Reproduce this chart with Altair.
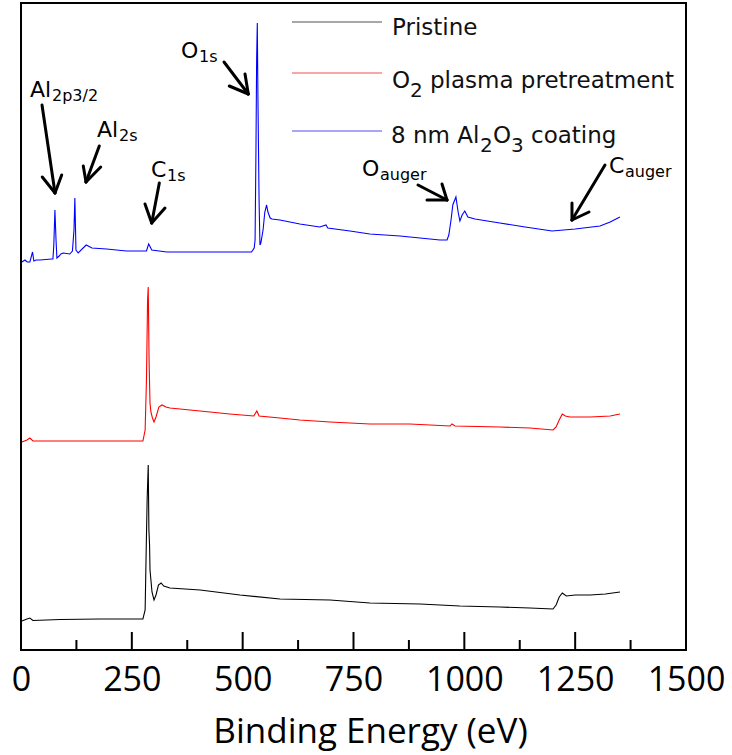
import altair as alt
import pandas as pd

# ---- XPS survey spectra (binding energy in eV, stacked intensity in a.u.) ----
pristine_be = [2, 13.5, 20, 27, 88, 178, 275, 280, 282, 284.5, 287, 288.5, 290, 291,
               295.5, 300, 304.5, 310, 316, 322, 336, 404, 494, 584, 697, 787, 900, 990,
               1080, 1148, 1200, 1207, 1214, 1221, 1230, 1250, 1284, 1318, 1351]
pristine_int = [29, 31, 32, 29.5, 30.5, 31, 31, 40, 90, 150, 185, 120, 105, 80,
                58, 50, 55, 65, 67, 64, 62, 60, 55, 51, 50, 47, 46, 44,
                43, 42, 41, 45, 53, 57, 54, 55, 55, 56, 58]

plasma_be = [2, 13.5, 20, 27, 88, 178, 275, 280, 283, 285.5, 287, 289, 291, 293,
             296.5, 300, 304.5, 311, 318, 327, 336, 404, 471, 525, 532, 537, 584, 629,
             697, 787, 877, 968, 972, 979, 1080, 1148, 1200, 1207, 1214, 1221, 1228,
             1238, 1284, 1329, 1351]
plasma_int = [208, 210, 212, 209, 209, 209, 209, 220, 270, 350, 363, 287, 247, 238,
              232, 228, 233, 243, 245, 243, 242, 239, 236, 234, 239, 234, 232, 230,
              228, 226, 226, 224, 226, 224, 223, 222, 220, 223, 230, 236, 234,
              233, 233, 234, 236]

coating_be = [2, 9, 14, 20, 26, 29, 34, 43, 69, 72, 74, 76.5, 79, 81, 86, 90, 95, 110,
              116, 119.5, 121.5, 124, 129, 147, 160, 193, 238, 283, 288, 295, 329, 404,
              478, 520, 526, 528, 530, 531.5, 533, 534.5, 537, 539, 541, 546, 550, 554,
              557, 562, 566, 584, 629, 674, 688, 692, 742, 787, 855, 900, 945, 961, 965,
              970, 974, 981, 986, 990, 995, 1001, 1008, 1024, 1080, 1137, 1198, 1250,
              1306, 1329, 1351]
coating_int = [388, 390, 388, 388, 398, 389, 390, 390, 391, 391, 405, 440, 410, 392, 394,
               396, 397, 396, 399, 420, 452, 400, 397, 405, 402, 401, 399, 399, 406, 400,
               398, 398, 398, 398, 402, 410, 500, 590, 627, 550, 450, 405, 407, 420, 438,
               445, 438, 432, 431, 430, 426, 423, 425, 422, 419, 416, 414, 412, 410, 410,
               415, 430, 445, 453, 438, 429, 435, 439, 433, 431, 427, 423, 419, 421, 424,
               428, 433]

series_names = ["Pristine", "O2 plasma pretreatment", "8 nm Al2O3 coating"]
series_colors = ["#000000", "#ff0000", "#0000ff"]
legend_line_colors = ["#8a8a8a", "#f48a8a", "#8a8af4"]

# ---- x axis ticks ----
tick_labels = [0, 250, 500, 750, 1000, 1250, 1500]
major_ticks = [250, 500, 750, 1000, 1250]
minor_ticks = [125, 375, 625, 875, 1125, 1375]

# ---- peak labels (main symbol + subscript) ----
peak_main = ["Al", "Al", "C", "O", "O", "C"]
peak_main_be = [20.3, 171.4, 293.2, 360.9, 769.2, 1326.3]
peak_main_int = [553, 513, 473, 592, 474, 477]
peak_sub = ["2p3/2", "2s", "1s", "1s", "auger", "auger"]
peak_sub_be = [69.9, 221, 329.3, 401.5, 809.8, 1362.4]
peak_sub_int = [549, 509, 469, 588, 470, 473]

# ---- arrows pointing at the peaks: tail, tip and the two head strokes ----
arrow_tail_be = [47.4, 176.6, 312, 457.9, 895.5, 1317.3]
arrow_tail_int = [545, 504, 467, 588, 465, 485]
arrow_tip_be = [76.7, 146.6, 294.8, 512.7, 960.9, 1242.8]
arrow_tip_int = [457, 468, 427, 556, 450, 430]
head_a_be = [48, 140.5, 279.7, 469.8, 915.8, 1242.8]
head_a_int = [473, 484, 446, 564, 450, 447]
head_b_be = [91.8, 179.8, 324.8, 505.3, 949.6, 1281.2]
head_b_int = [475, 483, 442, 576, 466, 438]

# ---- legend ----
legend_line_be = [611.3, 814.3]
legend_line_int = [628, 577, 519]
legend_text = ["Pristine", "O", "plasma pretreatment", "8 nm Al", "O", "coating"]
legend_text_be = [836.8, 836.8, 922.5, 834.6, 1064.6, 1150.4]
legend_text_int = [615, 562, 562, 507, 507, 507]
legend_sub = ["2", "2", "3"]
legend_sub_be = [877.4, 1035.3, 1105.2]
legend_sub_int = [553, 498, 498]

# ---- tables ----
frames = []
for name, be, inten in zip(series_names,
                           [pristine_be, plasma_be, coating_be],
                           [pristine_int, plasma_int, coating_int]):
    frames.append(pd.DataFrame({"be": be, "intensity": inten, "series": name,
                                "idx": range(len(be))}))
spectra = pd.concat(frames, ignore_index=True)

segs = []
for i in range(len(arrow_tip_be)):
    segs.append((arrow_tail_be[i], arrow_tail_int[i], arrow_tip_be[i], arrow_tip_int[i]))
    segs.append((arrow_tip_be[i], arrow_tip_int[i], head_a_be[i], head_a_int[i]))
    segs.append((arrow_tip_be[i], arrow_tip_int[i], head_b_be[i], head_b_int[i]))
arrows = pd.DataFrame(segs, columns=["x", "y", "x2", "y2"])

main_labels = pd.DataFrame({"t": peak_main, "x": peak_main_be, "y": peak_main_int})
sub_labels = pd.DataFrame({"t": peak_sub, "x": peak_sub_be, "y": peak_sub_int})

legend_lines = pd.DataFrame({"x": legend_line_be[0], "x2": legend_line_be[1],
                             "y": legend_line_int, "c": legend_line_colors})
legend_main = pd.DataFrame({"t": legend_text, "x": legend_text_be, "y": legend_text_int})
legend_subs = pd.DataFrame({"t": legend_sub, "x": legend_sub_be, "y": legend_sub_int})

tick_df = pd.DataFrame({"be": major_ticks + minor_ticks,
                        "top": [18] * len(major_ticks) + [10] * len(minor_ticks)})

# ---- scales ----
x_scale = alt.Scale(domain=[0, 1500], nice=False, zero=False)
y_scale = alt.Scale(domain=[0, 647], nice=False, zero=False)
PLOT_H = 647

x_axis = alt.Axis(
    values=tick_labels, format="d", title="Binding Energy (eV)", grid=False, domain=False,
    ticks=False, tickSize=0, labelFont="Open Sans", labelFontSize=34,
    labelColor="black", labelBaseline="alphabetic", labelPadding=40,
    labelFlush=False, labelOverlap=False,
    titleFont="Open Sans", titleFontSize=35, titleFontWeight="normal",
    titleColor="black", titleBaseline="alphabetic", titleX=349, titleY=92,
)


def xq(field):
    return alt.X(field, scale=x_scale, title="Binding Energy (eV)")


def yq(field):
    return alt.Y(field, scale=y_scale, axis=None)


lines = alt.Chart(spectra).mark_line(strokeWidth=1.1).encode(
    x=alt.X("be:Q", scale=x_scale, axis=x_axis),
    y=yq("intensity:Q"),
    color=alt.Color("series:N", scale=alt.Scale(domain=series_names, range=series_colors),
                    legend=None),
    order="idx:Q",
)

# inward-pointing ticks standing on the bottom frame (tick length in intensity units)
tick_marks = alt.Chart(tick_df).mark_rule(color="black", strokeWidth=2).encode(
    x=xq("be:Q"),
    y=alt.Y("base:Q", scale=y_scale, axis=None),
    y2="top:Q",
).transform_calculate(base="0")

arrow_marks = alt.Chart(arrows).mark_rule(color="black", strokeWidth=3, strokeCap="round").encode(
    x=xq("x:Q"), y=yq("y:Q"), x2="x2:Q", y2="y2:Q",
)

peak_text = alt.Chart(main_labels).mark_text(
    align="left", baseline="alphabetic", font="DejaVu Sans", fontSize=22, color="black"
).encode(x=xq("x:Q"), y=yq("y:Q"), text="t:N")

peak_sub_text = alt.Chart(sub_labels).mark_text(
    align="left", baseline="alphabetic", font="DejaVu Sans", fontSize=16, color="black"
).encode(x=xq("x:Q"), y=yq("y:Q"), text="t:N")

legend_line_marks = alt.Chart(legend_lines).mark_rule(strokeWidth=1.5).encode(
    x=xq("x:Q"), x2="x2:Q", y=yq("y:Q"), color=alt.Color("c:N", scale=None),
)

legend_text_marks = alt.Chart(legend_main).mark_text(
    align="left", baseline="alphabetic", font="DejaVu Sans", fontSize=23, color="#111111"
).encode(x=xq("x:Q"), y=yq("y:Q"), text="t:N")

legend_sub_marks = alt.Chart(legend_subs).mark_text(
    align="left", baseline="alphabetic", font="DejaVu Sans", fontSize=20, color="#111111"
).encode(x=xq("x:Q"), y=yq("y:Q"), text="t:N")

chart = alt.layer(
    lines, tick_marks, arrow_marks, peak_text, peak_sub_text,
    legend_line_marks, legend_text_marks, legend_sub_marks,
).properties(
    width=665, height=PLOT_H,
    autosize=alt.AutoSizeParams(type="none"),
    padding={"left": 21, "top": 3, "right": 46, "bottom": 105},
    background="white",
).configure_view(stroke="black", strokeWidth=2)

chart.save("out.html", embed_options={"renderer": "svg", "actions": False})
